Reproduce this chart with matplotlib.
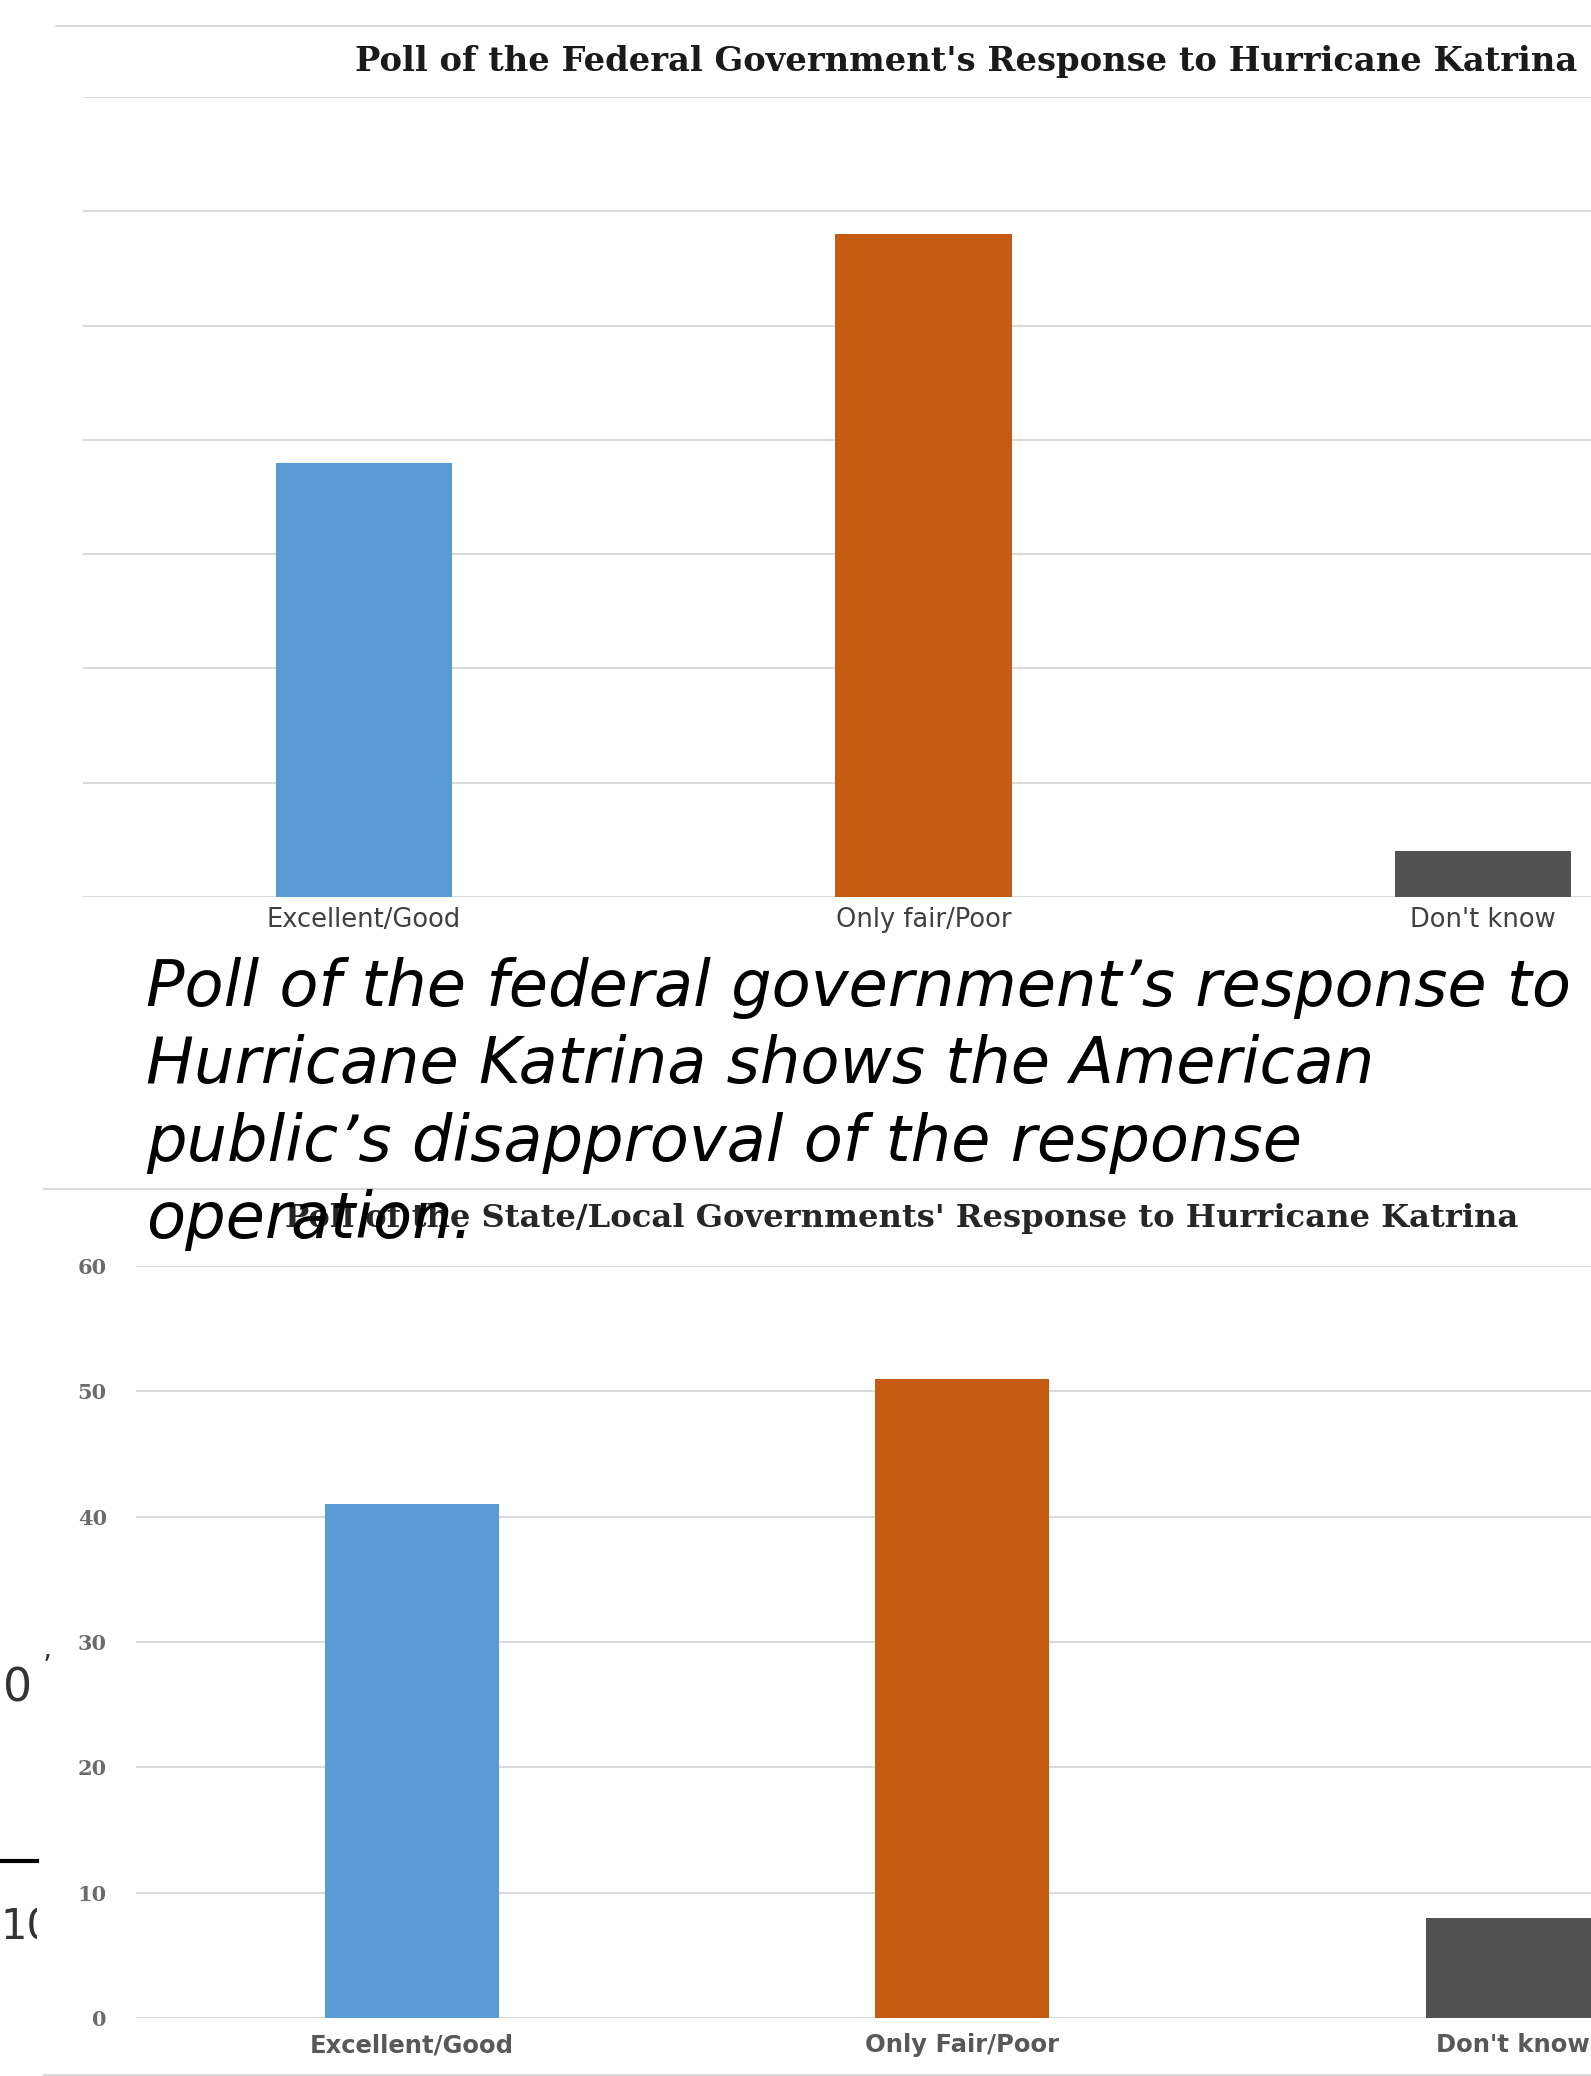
import matplotlib.pyplot as plt
from matplotlib.lines import Line2D

W, H = 1591, 2076

# data
federal_categories = ["Excellent/Good", "Only fair/Poor", "Don't know"]
federal_values = [38, 58, 4]
federal_grid = [0, 10, 20, 30, 40, 50, 60, 70]

state_categories = ["Excellent/Good", "Only Fair/Poor", "Don't know"]
state_values = [41, 51, 8]
state_ticks = [0, 10, 20, 30, 40, 50, 60]

bar_colors = ["#5B9BD5", "#C55A11", "#525252"]

federal_title = "Poll of the Federal Government's Response to Hurricane Katrina"
state_title = "Poll of the State/Local Governments' Response to Hurricane Katrina"
caption_lines = [
    "Poll of the federal government\u2019s response to",
    "Hurricane Katrina shows the American",
    "public\u2019s disapproval of the response",
    "operation.",
]

GRID = "#d9d9d9"


def px_axes(fig, left, top, right, bottom):
    return fig.add_axes([left / W, 1 - bottom / H, (right - left) / W, (bottom - top) / H])


def hline(fig, x0, x1, y, color=GRID, lw=1.4):
    fig.add_artist(Line2D([x0 / W, x1 / W], [1 - y / H, 1 - y / H],
                          transform=fig.transFigure, color=color, lw=lw))


def style_bars(ax, grid):
    ax.set_yticks(grid)
    ax.set_ylim(grid[0], grid[-1])
    ax.yaxis.grid(True, color=GRID, lw=1.4)
    ax.set_axisbelow(True)
    for s in ax.spines.values():
        s.set_visible(False)
    ax.tick_params(length=0)


fig = plt.figure(figsize=(W / 100, H / 100), dpi=100)

# top chart (federal)
ax1 = px_axes(fig, 83, 97, 1591, 897)
ax1.bar(range(len(federal_values)), federal_values, width=0.315, color=bar_colors)
style_bars(ax1, federal_grid)
ax1.set_xlim(-0.502, 2.193)
ax1.tick_params(axis="y", labelleft=False)
ax1.set_xticks(range(len(federal_categories)), federal_categories,
               fontsize=18.5, color="#404040")
ax1.tick_params(axis="x", pad=7)
hline(fig, 56, 1591, 26)
fig.text(966 / W, 1 - 61 / H, federal_title, ha="center", va="center",
         family="DejaVu Serif", weight="bold", fontsize=24.3, color="#1a1a1a")

# bottom chart (state/local)
ax2 = px_axes(fig, 136, 1266, 1591, 2018)
ax2.bar(range(len(state_values)), state_values, width=0.316, color=bar_colors)
style_bars(ax2, state_ticks)
ax2.set_xlim(-0.501, 2.142)
ax2.set_yticklabels([str(t) for t in state_ticks], family="DejaVu Serif",
                    weight="bold", fontsize=15, color="#6b6b6b")
ax2.tick_params(axis="y", pad=21)
ax2.set_xticks(range(len(state_categories)), state_categories,
               weight="bold", fontsize=17.5, color="#595959")
ax2.tick_params(axis="x", pad=11)
hline(fig, 44, 1591, 1189)
hline(fig, 44, 1591, 2075)
fig.text(902 / W, 1 - 1219 / H, state_title, ha="center", va="center",
         family="DejaVu Serif", weight="bold", fontsize=23.1, color="#262626")

# leftover bits of another image on the left edge
strip = px_axes(fig, 0, 1600, 37, 1960)
strip.axis("off")
strip.text(3 / W, 1 - 1702 / H, "0", transform=fig.transFigure, clip_on=True,
           fontsize=33, va="baseline", color="#333333")
strip.text(0 / W, 1 - 1940 / H, "10", transform=fig.transFigure, clip_on=True,
           fontsize=30, va="baseline", color="#333333")
fig.text(43 / W, 1 - 1653 / H, "\u2019", fontsize=20, va="top", color="#333333")
hline(fig, 0, 37, 1861, color="black", lw=3)

# italic caption laid over the charts
for i, line in enumerate(caption_lines):
    fig.text(146 / W, 1 - (1006 + i * 77.3) / H, line, fontsize=46,
             style="italic", va="baseline", color="black", zorder=10)

fig.savefig("out.png", dpi=100)
